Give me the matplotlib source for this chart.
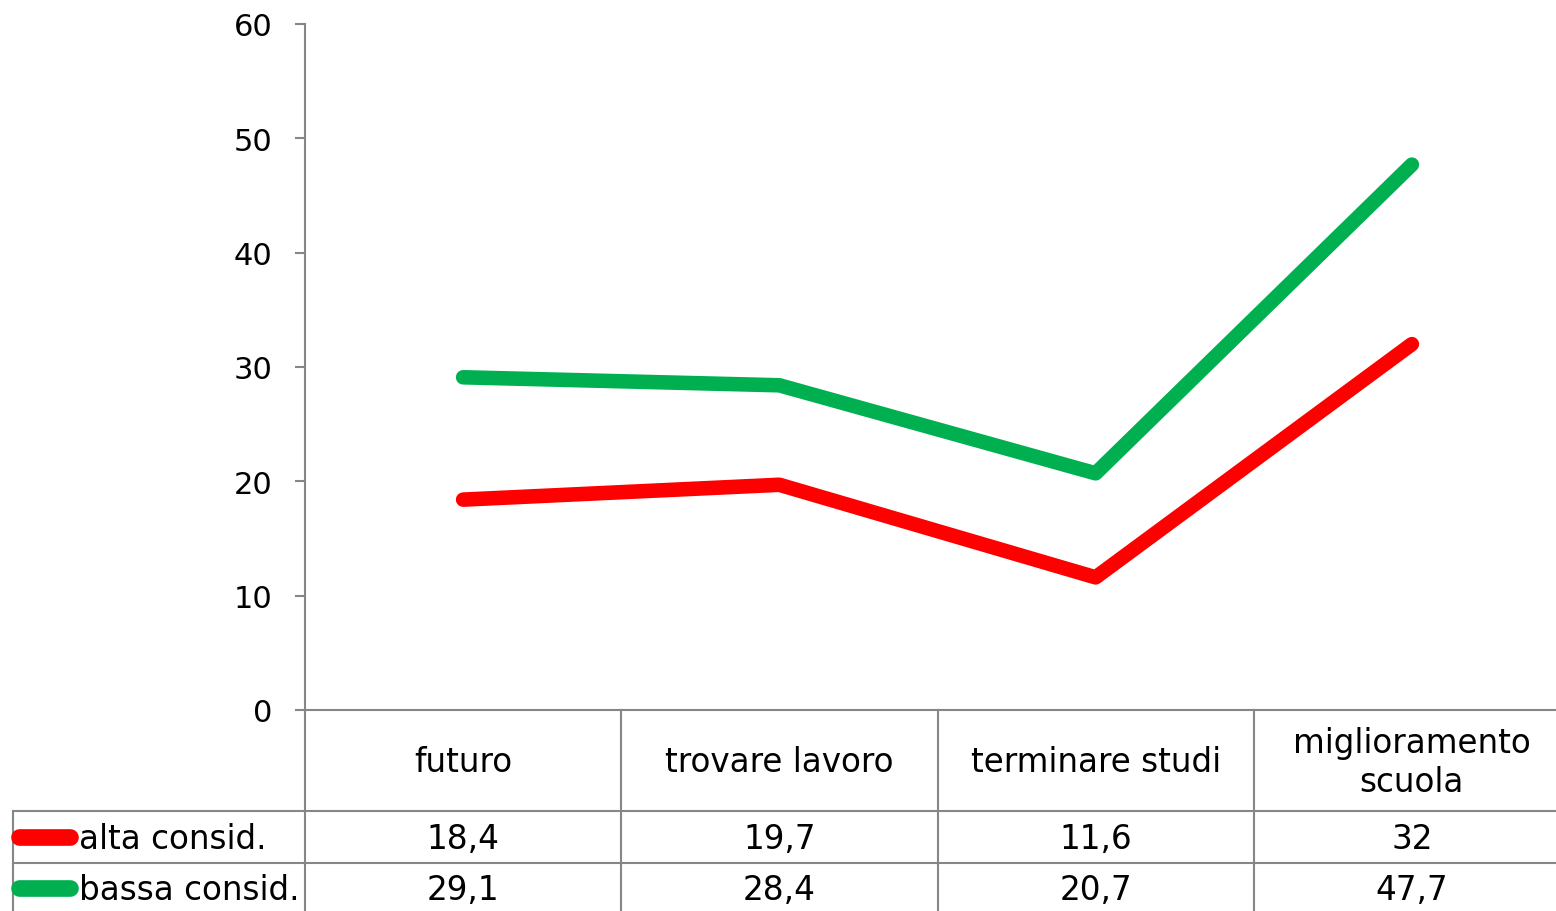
import matplotlib
matplotlib.use("Agg")
import matplotlib.pyplot as plt
from matplotlib.lines import Line2D

categories = ["futuro", "trovare lavoro", "terminare studi", "miglioramento\nscuola"]
series_names = ["alta consid.", "bassa consid."]
alta = [18.4, 19.7, 11.6, 32]
bassa = [29.1, 28.4, 20.7, 47.7]
alta_labels = ["18,4", "19,7", "11,6", "32"]
bassa_labels = ["29,1", "28,4", "20,7", "47,7"]
yticks = [0, 10, 20, 30, 40, 50, 60]

RED = "#FF0000"
GREEN = "#00B050"
GRID = "#868686"

W, H = 1556, 912
fig = plt.figure(figsize=(W / 100, H / 100), dpi=100)
plt.rcParams['font.family'] = ['DejaVu Sans']
FONT = dict(family='DejaVu Sans', fontsize=23.5, color='black')
TICKFONT = dict(family='DejaVu Sans', fontsize=22, color='black')

def fx(x):
    return x / W

def fy(y):
    return 1 - y / H

ax_left, ax_top, ax_bottom, ax_right = 305, 25, 711, 1570
ax = fig.add_axes([fx(ax_left), fy(ax_bottom), (ax_right - ax_left) / W, (ax_bottom - ax_top) / H])
x = list(range(len(categories)))
ax.plot(x, alta, color=RED, lw=10.5, solid_capstyle='round', solid_joinstyle='round')
ax.plot(x, bassa, color=GREEN, lw=10.5, solid_capstyle='round', solid_joinstyle='round')
ax.set_xlim(-0.5, len(categories) - 0.5)
ax.set_ylim(0, 60)
ax.set_yticks(yticks)
ax.set_yticklabels([str(t) for t in yticks], **TICKFONT)
ax.set_xticks([])
for s in ['top', 'right']:
    ax.spines[s].set_visible(False)
for s in ['left', 'bottom']:
    ax.spines[s].set_color(GRID)
    ax.spines[s].set_linewidth(1.5)
ax.tick_params(axis='y', length=7.2, width=1.5, color=GRID, pad=16)

# table grid
col_w = (ax_right - ax_left) / len(categories)
def hline(x0, x1, y):
    fig.add_artist(Line2D([fx(x0), fx(x1)], [fy(y), fy(y)], color=GRID, lw=1.5))
def vline(x, y0, y1):
    fig.add_artist(Line2D([fx(x), fx(x)], [fy(y0), fy(y1)], color=GRID, lw=1.5))

row1, row2 = 812, 864
hline(13, W, row1)
hline(13, W, row2)
vline(13, row1, H + 5)
for i in range(len(categories) + 1):
    vline(ax_left + i * col_w, ax_bottom, H + 5)

for i, cat in enumerate(categories):
    cx = ax_left + (i + 0.5) * col_w
    fig.text(fx(cx), fy(763), cat, ha='center', va='center', linespacing=1.25, **FONT)
    fig.text(fx(cx), fy(840), alta_labels[i], ha='center', va='center', **FONT)
    fig.text(fx(cx), fy(891), bassa_labels[i], ha='center', va='center', **FONT)

for name, col, yy in [(series_names[0], RED, 838), (series_names[1], GREEN, 889)]:
    fig.add_artist(Line2D([fx(19), fx(70)], [fy(yy), fy(yy)], color=col, lw=12,
                          solid_capstyle='round'))
    fig.text(fx(79), fy(yy + 2), name, ha='left', va='center', **FONT)

fig.savefig("out.png", dpi=100)
